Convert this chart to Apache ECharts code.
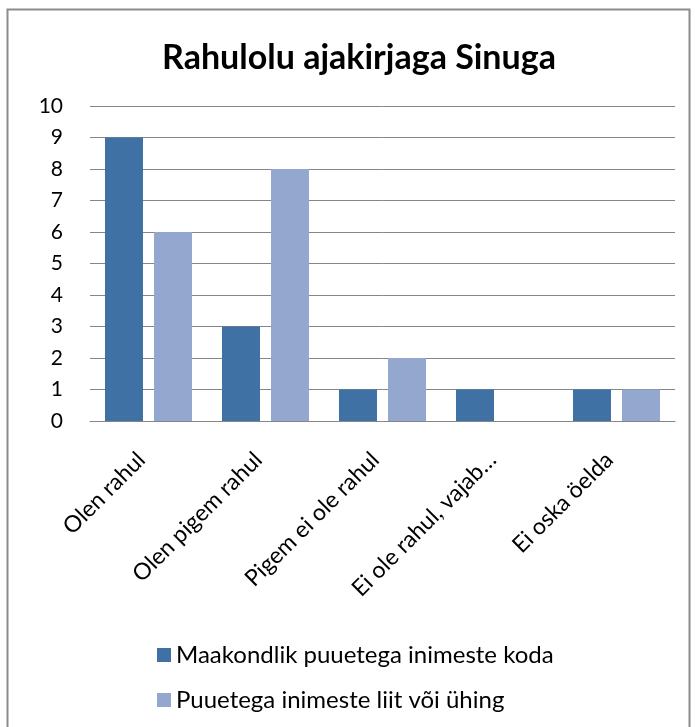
<!DOCTYPE html>
<html>
<head>
<meta charset="utf-8">
<script src="https://cdn.jsdelivr.net/npm/echarts@6/dist/echarts.min.js"></script>
<style>
  html, body { margin: 0; padding: 0; background: #fff; }
  #chart { width: 695px; height: 727px; }
</style>
</head>
<body>
<div id="chart"></div>
<script>
const categories = ["Olen rahul", "Olen pigem rahul", "Pigem ei ole rahul", "Ei ole rahul, vajab…", "Ei oska öelda"];
const seriesNames = ["Maakondlik puuetega inimeste koda", "Puuetega inimeste liit või ühing"];
const kodaValues = [9, 3, 1, 1, 1];
const liitValues = [6, 8, 2, 0, 1];

const chart = echarts.init(document.getElementById("chart"));
const font = "Lato, 'Open Sans', sans-serif";

chart.setOption({
  animation: false,
  title: {
    text: "Rahulolu ajakirjaga Sinuga",
    left: 354,
    textAlign: "center",
    top: 36,
    textStyle: { fontFamily: font, fontSize: 34, fontWeight: "bold", color: "#000" }
  },
  graphic: [{
    type: "rect",
    shape: { x: 7.5, y: 9.5, width: 682, height: 730 },
    style: { fill: "none", stroke: "#8c8c8c", lineWidth: 2 }
  }],
  legend: {
    orient: "vertical",
    left: 152,
    top: 638,
    itemWidth: 14,
    itemHeight: 14,
    itemGap: 21,
    icon: "rect",
    textStyle: { fontFamily: font, fontSize: 24, color: "#000" },
    data: seriesNames
  },
  grid: { left: 90, right: 20, top: 106, height: 315, containLabel: false },
  xAxis: {
    type: "category",
    data: categories,
    axisLine: { lineStyle: { color: "#868686" } },
    axisTick: { show: false },
    axisLabel: {
      rotate: 45,
      interval: 0,
      margin: 28,
      padding: [0, 10, 0, 0],
      fontFamily: font,
      fontSize: 23,
      color: "#000"
    }
  },
  yAxis: {
    type: "value",
    min: 0,
    max: 10,
    interval: 1,
    axisLine: { show: false },
    axisTick: { show: false },
    axisLabel: { fontFamily: font, fontSize: 21, color: "#000", margin: 27 },
    splitLine: { lineStyle: { color: "#868686" } }
  },
  series: [
    {
      name: seriesNames[0],
      type: "bar",
      data: kodaValues,
      barWidth: 38,
      barGap: "29%",
      itemStyle: { color: "#3F71A5" }
    },
    {
      name: seriesNames[1],
      type: "bar",
      data: liitValues,
      barWidth: 38,
      itemStyle: { color: "#94A8CF" }
    }
  ]
});
</script>
</body>
</html>
